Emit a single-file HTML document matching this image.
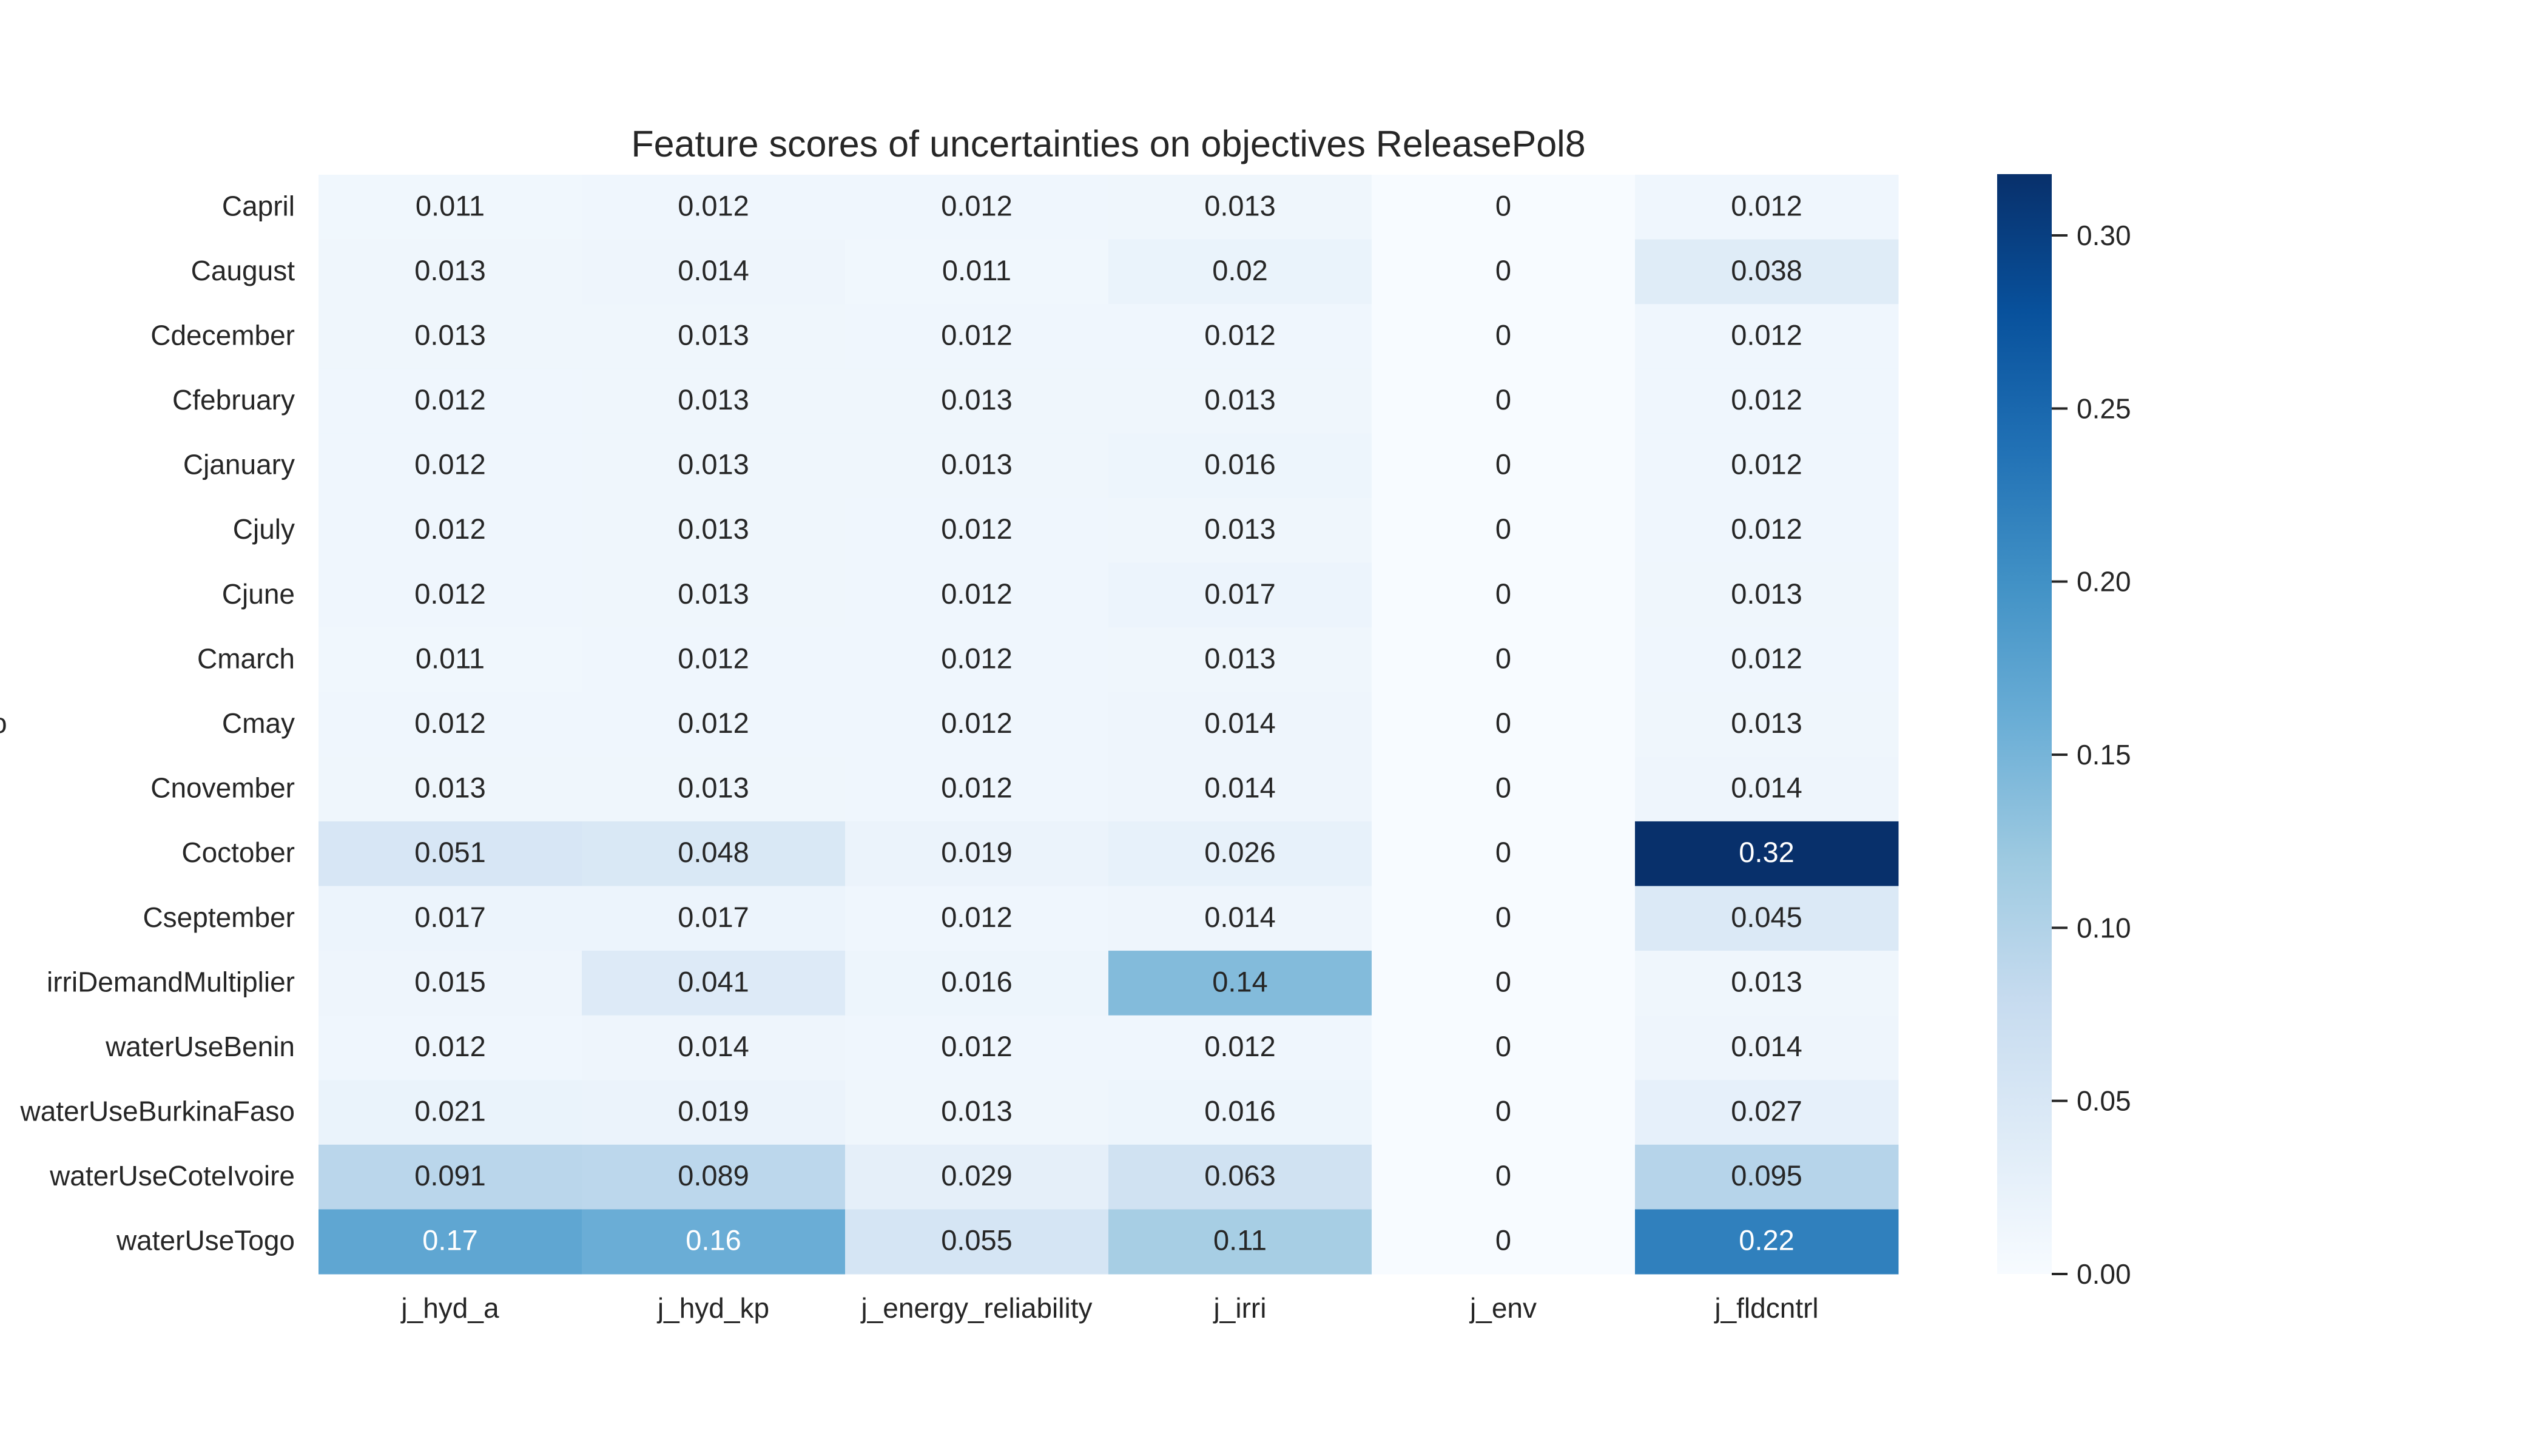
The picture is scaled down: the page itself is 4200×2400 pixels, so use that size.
<!DOCTYPE html>
<html><head><meta charset="utf-8"><style>
html,body{margin:0;padding:0;background:#fff;}
svg{display:block;font-family:"Liberation Sans",Arial,sans-serif;}
</style></head><body>
<svg id="chart" width="4200" height="2400" viewBox="0 0 4200 2400" xmlns="http://www.w3.org/2000/svg">
<rect x="0" y="0" width="4200" height="2400" fill="#ffffff"/>
<text x="1827" y="258" font-size="61" fill="#262626" text-anchor="middle">Feature scores of uncertainties on objectives ReleasePol8</text>
<g id="cells"></g>
<g id="ylabels"></g>
<g id="xlabels"></g>
<defs><linearGradient id="cbgrad" x1="0" y1="1" x2="0" y2="0"></linearGradient></defs>
<g id="colorbar"></g>
</svg>
<script>
const rows = ["Capril","Caugust","Cdecember","Cfebruary","Cjanuary","Cjuly","Cjune","Cmarch","Cmay","Cnovember","Coctober","Cseptember","irriDemandMultiplier","waterUseBenin","waterUseBurkinaFaso","waterUseCoteIvoire","waterUseTogo"];
const cols = ["j_hyd_a","j_hyd_kp","j_energy_reliability","j_irri","j_env","j_fldcntrl"];
const jHydA = [0.011,0.013,0.013,0.012,0.012,0.012,0.012,0.011,0.012,0.013,0.051,0.017,0.015,0.012,0.021,0.091,0.17];
const jHydKp = [0.012,0.014,0.013,0.013,0.013,0.013,0.013,0.012,0.012,0.013,0.048,0.017,0.041,0.014,0.019,0.089,0.16];
const jEnergy = [0.012,0.011,0.012,0.013,0.013,0.012,0.012,0.012,0.012,0.012,0.019,0.012,0.016,0.012,0.013,0.029,0.055];
const jIrri = [0.013,0.02,0.012,0.013,0.016,0.013,0.017,0.013,0.014,0.014,0.026,0.014,0.14,0.012,0.016,0.063,0.11];
const jEnv = [0,0,0,0,0,0,0,0,0,0,0,0,0,0,0,0,0];
const jFld = [0.012,0.038,0.012,0.012,0.012,0.012,0.013,0.012,0.013,0.014,0.32,0.045,0.013,0.014,0.027,0.095,0.22];
const series = [jHydA,jHydKp,jEnergy,jIrri,jEnv,jFld];
const cbTicks = [0,0.05,0.10,0.15,0.20,0.25,0.30];
const cbTickLabels = ["0.00","0.05","0.10","0.15","0.20","0.25","0.30"];
const vmin = 0, vmax = 0.3177;

const NS="http://www.w3.org/2000/svg";
const L=525,R=3129,T=288,B=2100;
const cw=(R-L)/cols.length, rh=(B-T)/rows.length;
const xPos=i=>L+i*cw, yPos=j=>T+j*rh;
const blues=["#f7fbff","#deebf7","#c6dbef","#9ecae1","#6baed6","#4292c6","#2171b5","#08519c","#08306b"];
function hex(h){return [1,3,5].map(i=>parseInt(h.substr(i,2),16));}
function cmap(v){
  let t=Math.max(0,Math.min(1,(v-vmin)/(vmax-vmin)))*(blues.length-1);
  let i=Math.min(Math.floor(t),blues.length-2),f=t-i;
  const a=hex(blues[i]),b=hex(blues[i+1]);
  const c=a.map((x,k)=>Math.round(x+(b[k]-x)*f));
  return {s:`rgb(${c[0]},${c[1]},${c[2]})`,lum:(0.2126*c[0]+0.7152*c[1]+0.0722*c[2])/255};
}
function fmt(v){return v===0?"0":String(parseFloat(v.toPrecision(2)));}
const cells=document.getElementById('cells');
series.forEach((arr,i)=>{arr.forEach((v,j)=>{
  const c=cmap(v);
  const r=document.createElementNS(NS,'rect');
  r.setAttribute('x',xPos(i));r.setAttribute('y',yPos(j));
  r.setAttribute('width',cw+0.5);r.setAttribute('height',rh+0.5);
  r.setAttribute('fill',c.s);
  
  
  cells.appendChild(r);
  const t=document.createElementNS(NS,'text');
  t.setAttribute('x',xPos(i)+cw/2);t.setAttribute('y',yPos(j)+rh/2+14);
  t.setAttribute('text-anchor','middle');t.setAttribute('font-size','47');
  t.setAttribute('fill',c.lum<0.68?'#ffffff':'#262626');
  t.textContent=fmt(v);
  
  
  cells.appendChild(t);
});});
const yl=document.getElementById('ylabels');
rows.forEach((n,j)=>{
  const t=document.createElementNS(NS,'text');
  t.setAttribute('x',486);t.setAttribute('y',yPos(j)+rh/2+14);
  t.setAttribute('text-anchor','end');t.setAttribute('font-size','46');t.setAttribute('fill','#262626');
  t.textContent=n;
  
  
  yl.appendChild(t);
});
const yt=document.createElementNS(NS,'text');
yt.setAttribute('x',-14);yt.setAttribute('y',1208);yt.setAttribute('font-size','46');yt.setAttribute('fill','#262626');
yt.textContent='o';


document.getElementById('ylabels').appendChild(yt);
const xl=document.getElementById('xlabels');
cols.forEach((n,i)=>{
  const t=document.createElementNS(NS,'text');
  t.setAttribute('x',xPos(i)+cw/2);t.setAttribute('y',2172);
  t.setAttribute('text-anchor','middle');t.setAttribute('font-size','46');t.setAttribute('fill','#262626');
  t.textContent=n;
  
  
  xl.appendChild(t);
});
const grad=document.getElementById('cbgrad');
blues.forEach((c,k)=>{const s=document.createElementNS(NS,'stop');s.setAttribute('offset',k/(blues.length-1));s.setAttribute('stop-color',c);grad.appendChild(s);});
const cb=document.getElementById('colorbar');
const CBX=3292,CBW=90,CBT=287,CBB=2100;
const cbY=v=>CBB-(v-vmin)/(vmax-vmin)*(CBB-CBT);
const cr=document.createElementNS(NS,'rect');
cr.setAttribute('x',CBX);cr.setAttribute('y',CBT);cr.setAttribute('width',CBW);cr.setAttribute('height',CBB-CBT);
cr.setAttribute('fill','url(#cbgrad)');


cb.appendChild(cr);
cbTicks.forEach((v,k)=>{
  const y=cbY(v);
  const l=document.createElementNS(NS,'line');
  l.setAttribute('x1',CBX+CBW);l.setAttribute('x2',CBX+CBW+26);l.setAttribute('y1',y);l.setAttribute('y2',y);
  l.setAttribute('stroke','#262626');l.setAttribute('stroke-width','4');
  
  
  cb.appendChild(l);
  const t=document.createElementNS(NS,'text');
  t.setAttribute('x',3423);t.setAttribute('y',y+16);t.setAttribute('font-size','46');t.setAttribute('fill','#262626');
  t.textContent=cbTickLabels[k];
  
  
  cb.appendChild(t);
});
</script>
</body></html>
